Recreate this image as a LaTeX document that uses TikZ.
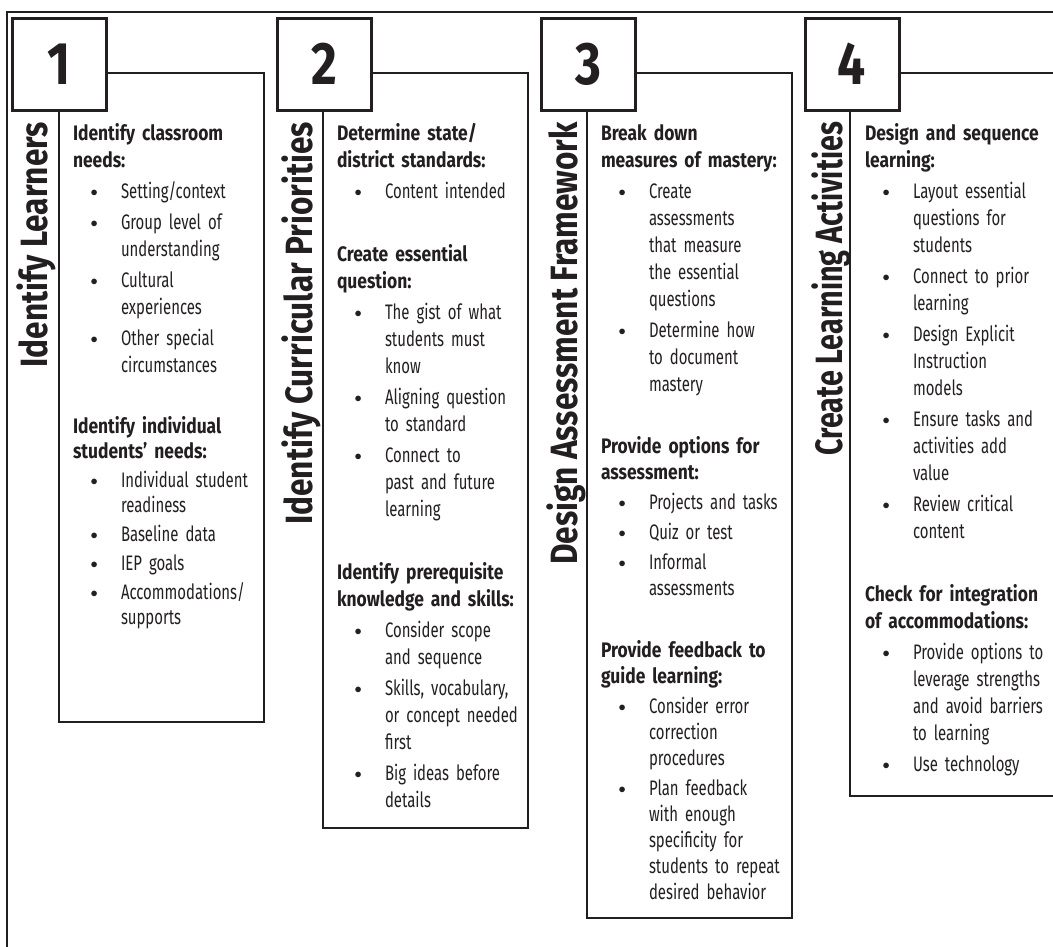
\documentclass[tikz,border=0pt]{standalone}
\usepackage{fontspec}
\setmainfont{Fira Sans}[FakeStretch=0.71, BoldFont=* Bold, BoldFeatures={FakeStretch=0.83}]
\usetikzlibrary{positioning}
\definecolor{ink}{RGB}{35,31,32}

% one heading, one bullet, and the space between two groups
\newcommand{\hd}[1]{\noindent{\bfseries #1}\par}
\newcommand{\grp}{\vspace{36pt}}
\newcommand{\dotmark}{\raisebox{2pt}{\fontsize{14}{14}\selectfont$\bullet$}}
\newcommand{\itm}[1]{\par\vspace{4pt}{\let\\\newline\hangindent=48pt\hangafter=1%
  \noindent\hspace*{17.5pt}\makebox[30.5pt][l]{\dotmark}#1\par}}

\begin{document}
\begin{tikzpicture}[x=1pt, y=-1pt,
    every node/.style={inner sep=0pt, outer sep=0pt, text=ink},
    panel/.style={draw=ink, line width=2.4pt, anchor=north west, minimum width=205pt},
    numbox/.style={draw=ink, line width=3pt, fill=white, anchor=north west,
      minimum width=94pt, minimum height=92pt, font=\bfseries\fontsize{60}{60}\selectfont},
    stage/.style={rotate=90, anchor=base east, font=\bfseries\fontsize{38}{38}\selectfont},
    steps/.style={anchor=base west, text width=190pt, align=left,
      font=\fontsize{21}{27}\selectfont},
  ]
  \useasboundingbox (0,0) rectangle (1053,946);

  % outer frame, open to the right and below
  \draw[ink, line width=2pt] (7,960) -- (7,12) -- (1070,12);

  % panels behind the number boxes
  \node[panel, minimum height=649pt] (p1) at (59,73) {};
  \node[panel, minimum height=755pt] (p2) at (323,73) {};
  \node[panel, minimum height=845pt] (p3) at (587,73) {};
  \node[panel, minimum height=723pt, minimum width=240pt] (p4) at (850,73) {};

  % numbers
  \node[numbox] (n1) at (12,18) {\raisebox{-3pt}{1}};
  \node[numbox, right=171pt of n1] (n2) {\raisebox{-3pt}{2}};
  \node[numbox, right=170pt of n2] (n3) {\raisebox{-3pt}{3}};
  \node[numbox, right=170pt of n3] (n4) {\raisebox{-3pt}{4}};

  % stage names
  \node[stage] (t1) at (47.5,122) {Identify Learners};
  \node[stage] (t2) at (312.5,122) {Identify Curricular Priorities};
  \node[stage] (t3) at (577,122) {Design Assessment Framework};
  \node[stage] (t4) at (842,122) {\scalebox{0.91}[1]{Create Learning Activities}};

  \node[steps] (s1) at (73,140) {%
    \hd{Identify classroom\\needs:}
    \itm{Setting/context}
    \itm{Group level of\\understanding}
    \itm{Cultural\\experiences}
    \itm{Other special\\circumstances}
    \grp\fontsize{21}{25}\selectfont
    \hd{Identify individual\\students’ needs:}
    \itm{Individual student\\readiness}
    \itm{Baseline data}
    \itm{IEP goals}
    \itm{Accommodations/\\supports}};

  \node[steps] (s2) at (337,140) {%
    \hd{Determine state/\\district standards:}
    \itm{Content intended}
    \grp
    \hd{Create essential\\question:}
    \itm{The gist of what\\students must\\know}
    \itm{Aligning question\\to standard}
    \itm{Connect to\\past and future\\learning}
    \grp
    \hd{Identify prerequisite\\knowledge and skills:}
    \itm{Consider scope\\and sequence}
    \itm{Skills, vocabulary,\\or concept needed\\first}
    \itm{Big ideas before\\details}};

  \node[steps] (s3) at (601,140) {%
    \hd{Break down\\measures of mastery:}
    \itm{Create\\assessments\\that measure\\the essential\\questions}
    \itm{Determine how\\to document\\mastery}
    \grp\fontsize{21}{26}\selectfont
    \hd{Provide options for\\assessment:}
    \itm{Projects and tasks}
    \itm{Quiz or test}
    \itm{Informal\\assessments}
    \grp
    \hd{Provide feedback to\\guide learning:}
    \itm{Consider error\\correction\\procedures}
    \itm{Plan feedback\\with enough\\specificity for\\students to repeat\\desired behavior}};

  \node[steps] (s4) at (865,140) {%
    \hd{Design and sequence\\learning:}
    \itm{Layout essential\\questions for\\students}
    \itm{Connect to prior\\learning}
    \itm{Design Explicit\\Instruction\\models}
    \itm{Ensure tasks and\\activities add\\value}
    \itm{Review critical\\content}
    \grp
    \hd{Check for integration\\of accommodations:}
    \itm{Provide options to\\leverage strengths\\and avoid barriers\\to learning}
    \itm{Use technology}};
\end{tikzpicture}
\end{document}
